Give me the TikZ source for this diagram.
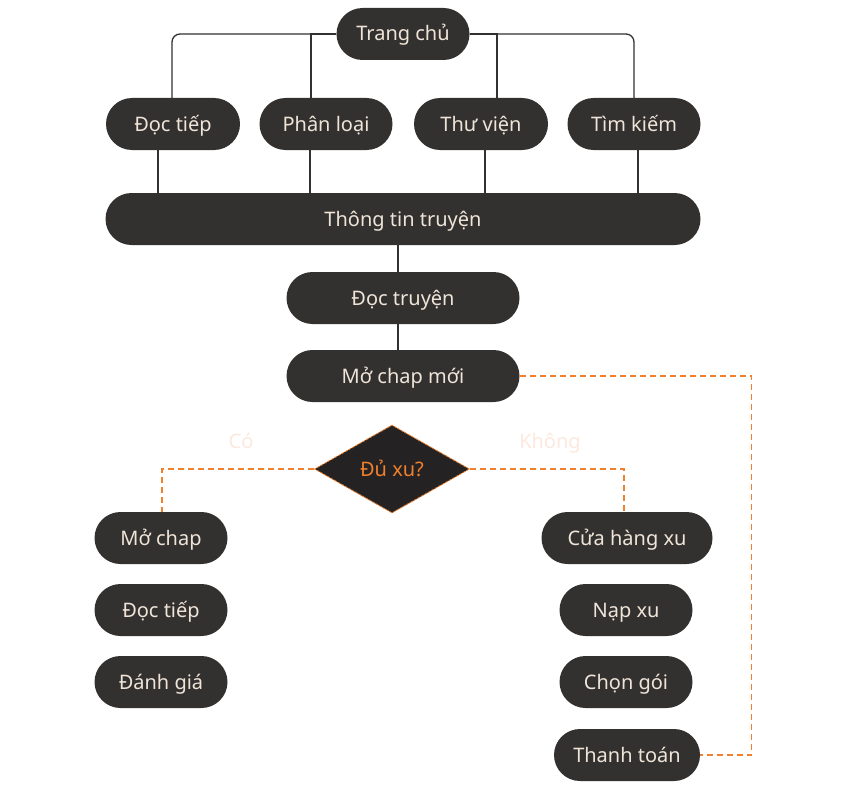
\documentclass[tikz,border=0pt]{standalone}
\usepackage{fontspec}
\setmainfont{Noto Sans}
\usetikzlibrary{shapes.geometric}
\definecolor{boxfill}{HTML}{333130}
\definecolor{boxtext}{HTML}{F0E4D8}
\definecolor{linegray}{HTML}{333130}
\definecolor{accent}{HTML}{F0802C}
\definecolor{faint}{HTML}{FCE8DE}
\tikzset{
  pill/.style={draw=none,fill=boxfill,text=boxtext,rounded corners=26pt,minimum height=52pt,inner sep=0pt,
    text height=14pt,text depth=0pt,font=\fontsize{20}{24}\selectfont},
  conn/.style={draw=linegray,line width=1.3pt},
  flow/.style={draw=accent,line width=1.5pt,dash pattern=on 6pt off 4pt},
  faintlabel/.style={text=faint,text height=14pt,text depth=0pt,font=\fontsize{20}{24}\selectfont}
}

\begin{document}
\begin{tikzpicture}[x=1pt,y=-1pt]
  \useasboundingbox (0,0) rectangle (850,789);
  \node[pill,minimum width=133pt] (home) at (403,34) {Trang chủ};
  \node[pill,minimum width=134pt] (cont) at (173,124) {Đọc tiếp};
  \node[pill,minimum width=133pt] (cat) at (326,124) {Phân loại};
  \node[pill,minimum width=134pt] (lib) at (481,124) {Thư viện};
  \node[pill,minimum width=133pt] (search) at (634,124) {Tìm kiếm};
  \node[pill,minimum width=595pt] (info) at (403,219) {Thông tin truyện};
  \node[pill,minimum width=233pt] (read) at (403,298) {Đọc truyện};
  \node[pill,minimum width=233pt] (newch) at (403,376) {Mở chap mới};
  \node[diamond,draw=accent,line width=0.8pt,dash pattern=on 3pt off 1pt,fill=boxfill!70!black,text=accent,
        minimum width=155pt,minimum height=88pt,inner sep=0pt,text height=14pt,text depth=0pt,
        font=\fontsize{20}{24}\selectfont] (coins) at (392,469) {Đủ xu?};
  \node[pill,minimum width=133pt] (open) at (161,538) {Mở chap};
  \node[pill,minimum width=133pt] (cont2) at (161,610) {Đọc tiếp};
  \node[pill,minimum width=133pt] (rate) at (161,682) {Đánh giá};
  \node[pill,minimum width=171pt] (shop) at (627,538) {Cửa hàng xu};
  \node[pill,minimum width=133pt] (topup) at (626,610) {Nạp xu};
  \node[pill,minimum width=133pt] (pack) at (626,682) {Chọn gói};
  \node[pill,minimum width=146pt] (pay) at (627,755) {Thanh toán};
  \node[faintlabel] (yes) at (241,441) {Có};
  \node[faintlabel] (no) at (550,441) {Không};

  \draw[conn,rounded corners=8pt] (home.west) -| ([xshift=-1pt]cont.north);
  \draw[conn] (home.west) -| ([xshift=-15pt]cat.north);
  \draw[conn] (home.east) -| ([xshift=16pt]lib.north);
  \draw[conn,rounded corners=8pt] (home.east) -| (search.north);
  \draw[conn] ([xshift=-15pt]cont.south) -- ([xshift=-15pt]cont.south |- info.north);
  \draw[conn] ([xshift=-16pt]cat.south) -- ([xshift=-16pt]cat.south |- info.north);
  \draw[conn] ([xshift=4pt]lib.south) -- ([xshift=4pt]lib.south |- info.north);
  \draw[conn] ([xshift=4pt]search.south) -- ([xshift=4pt]search.south |- info.north);
  \draw[conn] ([xshift=-5pt]info.south) -- ([xshift=-5pt]read.north);
  \draw[conn] ([xshift=-5pt]read.south) -- ([xshift=-5pt]newch.north);
  \draw[flow] (newch.east) -- ++(232,0) |- (pay.east);
  \draw[flow] (coins.west) -| ([xshift=1pt]open.north);
  \draw[flow] (coins.east) -| ([xshift=-3pt]shop.north);
\end{tikzpicture}
\end{document}
